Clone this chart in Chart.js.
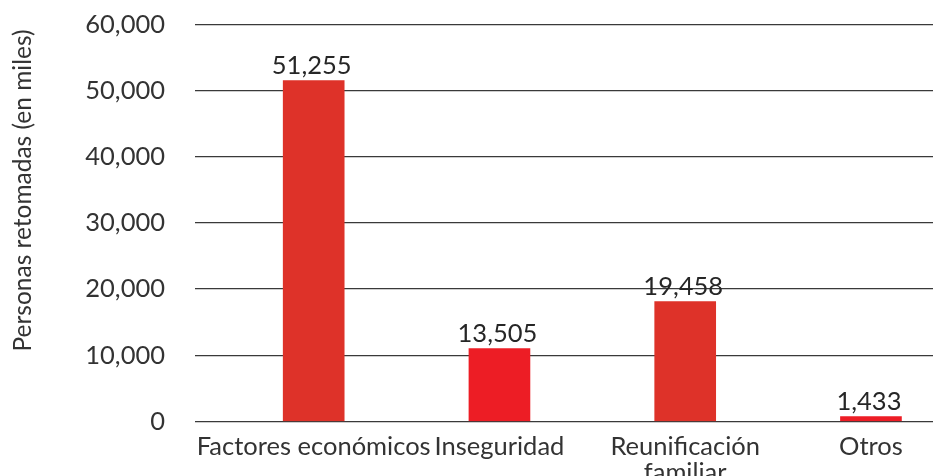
<!DOCTYPE html>
<html>
<head>
<meta charset="utf-8">
<script src="https://cdn.jsdelivr.net/npm/chart.js@4"></script>
<style>
  html, body { margin: 0; padding: 0; background: #fff; overflow: hidden; }
  #wrap { width: 933px; height: 497.5px; margin-top: -21.5px; }
</style>
</head>
<body>
<div id="wrap"><canvas id="barChart"></canvas></div>
<script>
// categorias y valores
var categories = ['Factores económicos', 'Inseguridad', ['Reunificación', 'familiar'], 'Otros'];
var values = [51500, 11000, 18100, 750];           // altura de las barras
var valueLabels = ['51,255', '13,505', '19,458', '1,433'];
var barColors = ['#de3229', '#ed1d25', '#de3229', '#ed1d25'];
var yTicks = [0, 10000, 20000, 30000, 40000, 50000, 60000];
var yTitle = 'Personas retomadas (en miles)';

var FONT = 'Lato, "Open Sans", sans-serif';

// etiquetas encima de las barras
var valueLabelPlugin = {
    id: 'valueLabels',
    afterDatasetsDraw: function (chart) {
        var ctx = chart.ctx;
        var meta = chart.getDatasetMeta(0);
        ctx.save();
        ctx.font = '25.5px ' + FONT;
        ctx.fillStyle = '#262626';
        ctx.textAlign = 'center';
        ctx.textBaseline = 'alphabetic';
        meta.data.forEach(function (bar, i) {
            ctx.fillText(valueLabels[i], bar.x - 2, bar.y - 7);
        });
        ctx.restore();
    }
};

// titulo del eje y
var yTitlePlugin = {
    id: 'yTitle',
    afterDraw: function (chart) {
        var ctx = chart.ctx;
        ctx.save();
        ctx.translate(23, 190 + 21.5);
        ctx.rotate(-Math.PI / 2);
        ctx.font = '24.5px ' + FONT;
        ctx.fillStyle = '#333';
        ctx.textAlign = 'center';
        ctx.textBaseline = 'middle';
        ctx.fillText(yTitle, 0, 0);
        ctx.restore();
    }
};

var ctxBar = document.getElementById('barChart').getContext('2d');
var barChart = new Chart(ctxBar, {
    type: 'bar',
    data: {
        datasets: [{
            data: values.map(function (v, i) { return { x: i, y: v }; }),
            backgroundColor: barColors,
            barThickness: 61,
            borderWidth: 0
        }]
    },
    plugins: [valueLabelPlugin, yTitlePlugin],
    options: {
        responsive: true,
        maintainAspectRatio: false,
        animation: false,
        layout: { padding: { top: 1.5, right: 0, bottom: 0, left: 0 } },
        plugins: {
            legend: { display: false },
            tooltip: { enabled: false }
        },
        scales: {
            x: {
                type: 'linear',
                offset: false,
                min: -0.639,
                max: 3.334,
                grid: { display: false, offset: false },
                border: { display: false },
                afterBuildTicks: function (axis) {
                    axis.ticks = categories.map(function (c, i) { return { value: i }; });
                },
                afterFit: function (axis) { axis.height = 55; },
                ticks: {
                    autoSkip: false,
                    maxRotation: 0,
                    padding: 5,
                    color: '#333',
                    font: { family: FONT, size: 25.5, lineHeight: 1.0 },
                    callback: function (v) { return categories[v]; }
                }
            },
            y: {
                min: 0,
                max: 60000,
                afterBuildTicks: function (axis) {
                    axis.ticks = yTicks.map(function (v) { return { value: v }; });
                },
                afterFit: function (axis) { axis.width = 195; },
                grid: { color: '#3a3a3a', lineWidth: 1.3, drawTicks: false },
                border: { display: false },
                ticks: {
                    padding: 30,
                    color: '#333',
                    font: { family: FONT, size: 25.5 },
                    callback: function (v) { return v.toLocaleString('en-US'); }
                }
            }
        }
    }
});
</script>
</body>
</html>
